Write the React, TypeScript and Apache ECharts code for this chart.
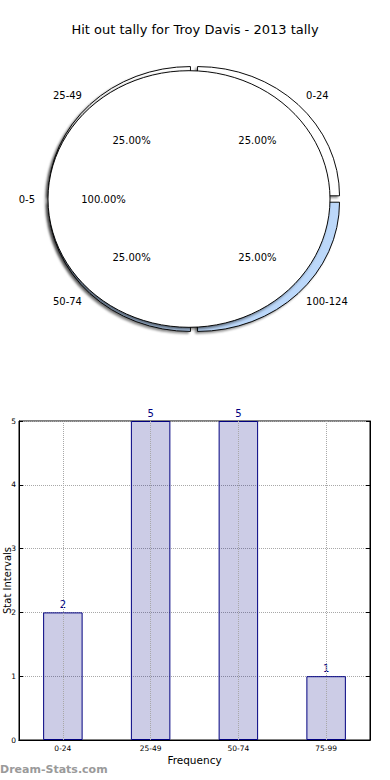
import React, { useEffect, useRef } from 'react';
import * as echarts from 'echarts';

const pieTitle = 'Hit out tally for Troy Davis - 2013 tally';
const ringNames = ['0-24', '25-49', '50-74', '100-124'];
const ringValues = [1, 1, 1, 1];
const ringPct = ['25.00%', '25.00%', '25.00%', '25.00%'];
const ringColors = ['#ffffff', '#ffffff', '#bcd8fa', '#bcd8fa'];
const fullName = '0-5';
const fullValue = 1;
const fullPct = '100.00%';

const barCategories = ['0-24', '25-49', '50-74', '75-99'];
const barValues = [2, 5, 5, 1];
const yMin = 0;
const yMax = 5;
const yStep = 1;

const FONT = 'DejaVu Sans';
const PIE_SCALE_Y = 0.91;

export default function App() {
  const pieRef = useRef<HTMLDivElement>(null);
  const mainRef = useRef<HTMLDivElement>(null);
  useEffect(() => {
    if (!pieRef.current || !mainRef.current) return;
    const pieChart = echarts.init(pieRef.current, undefined, { renderer: 'svg' });
    const chart = echarts.init(mainRef.current, undefined, { renderer: 'svg' });

    // Pie wedges (drawn in a vertically squeezed layer to get the elliptical look)
    pieChart.setOption({
      animation: false,
      series: [
        {
          type: 'pie',
          center: [194, 199],
          radius: [0, 142],
          startAngle: 0,
          clockwise: false,
          selectedMode: 'multiple',
          selectedOffset: 5,
          avoidLabelOverlap: false,
          silent: true,
          z: 1,
          data: ringNames.map((n, i) => ({
            name: n,
            value: ringValues[i],
            selected: true,
            itemStyle: { color: ringColors[i] },
          })),
          itemStyle: {
            borderColor: '#000',
            borderWidth: 1,
            shadowBlur: 2,
            shadowColor: 'rgba(0,0,0,0.45)',
            shadowOffsetX: -2,
            shadowOffsetY: 2,
          },
          label: { show: false },
          labelLine: { show: false },
          emphasis: { disabled: true },
        },
        {
          type: 'pie',
          center: [189, 199],
          radius: [0, 141],
          startAngle: 0,
          clockwise: false,
          silent: true,
          z: 2,
          data: [
            {
              name: fullName,
              value: fullValue,
              itemStyle: {
                color: '#ffffff',
                borderColor: '#000',
                borderWidth: 1,
                shadowBlur: 3,
                shadowColor: 'rgba(0,0,0,0.55)',
                shadowOffsetX: -2,
                shadowOffsetY: 2,
              },
            },
          ],
          label: { show: false },
          labelLine: { show: false },
          emphasis: { disabled: true },
        },
      ],
    });

    const option: any = {
      animation: false,
      textStyle: { fontFamily: FONT },
      title: {
        text: pieTitle,
        left: 'center',
        top: 18,
        textStyle: { fontFamily: FONT, fontSize: 13, fontWeight: 'normal', color: '#000' },
      },
      graphic: [
        {
          type: 'text',
          left: 0,
          top: 764,
          style: { text: 'Dream-Stats.com', fill: '#9a9a9a', font: 'bold 11px "DejaVu Sans"' },
        },
      ],
      grid: {
        left: 19,
        top: 421,
        width: 351,
        height: 319,
        show: true,
        borderColor: '#000',
        borderWidth: 1,
        containLabel: false,
        outerBoundsMode: 'none',
      },
      xAxis: [
        {
          type: 'category',
          data: barCategories,
          name: 'Frequency',
          nameLocation: 'middle',
          nameGap: 14,
          nameMoveOverlap: false,
          nameTextStyle: { fontFamily: FONT, fontSize: 10.5, color: '#000' },
          axisLine: { lineStyle: { color: '#000' } },
          axisTick: { inside: true, alignWithLabel: true, length: 4, lineStyle: { color: '#000' } },
          axisLabel: { fontFamily: FONT, fontSize: 7.5, color: '#000', margin: 4 },
          splitLine: { show: false },
        },
        {
          type: 'category',
          data: barCategories,
          position: 'top',
          axisLine: { lineStyle: { color: '#000' } },
          axisTick: { inside: true, alignWithLabel: true, length: 4, lineStyle: { color: '#000' } },
          axisLabel: { show: false },
        },
      ],
      yAxis: [
        {
          type: 'value',
          min: yMin,
          max: yMax,
          interval: yStep,
          name: 'Stat Intervals',
          nameLocation: 'middle',
          nameGap: 7,
          nameMoveOverlap: false,
          nameRotate: 90,
          nameTextStyle: { fontFamily: FONT, fontSize: 10, color: '#000' },
          axisLine: { show: true, lineStyle: { color: '#000' } },
          axisTick: { show: true, inside: true, length: 4, lineStyle: { color: '#000' } },
          axisLabel: { fontFamily: FONT, fontSize: 7.5, color: '#000', margin: 3 },
          splitLine: { show: true, lineStyle: { type: 'dotted', color: '#a8a8a8', width: 1 } },
        },
        {
          type: 'value',
          min: yMin,
          max: yMax,
          interval: yStep,
          position: 'right',
          axisLine: { show: true, lineStyle: { color: '#000' } },
          axisTick: { show: true, inside: true, length: 4, lineStyle: { color: '#000' } },
          axisLabel: { show: false },
          splitLine: { show: false },
        },
      ],
      series: [
        // Transparent pies carrying the pie's texts (unsqueezed)
        {
          type: 'pie',
          center: [194, 198.5],
          radius: [0, 140],
          startAngle: 0,
          clockwise: false,
          avoidLabelOverlap: false,
          silent: true,
          data: ringNames.map((n, i) => ({ name: n, value: ringValues[i] })),
          itemStyle: { color: 'rgba(0,0,0,0)', borderWidth: 0 },
          label: {
            show: true,
            position: 'outside',
            color: '#000',
            fontFamily: FONT,
            fontSize: 10,
            distanceToLabelLine: 2.5,
          },
          labelLine: { show: false, length: 5, length2: 7 },
          emphasis: { disabled: true },
        },
        {
          type: 'pie',
          center: [189, 199],
          radius: [0, 141],
          startAngle: 0,
          clockwise: false,
          avoidLabelOverlap: false,
          silent: true,
          data: [{ name: fullName, value: fullValue }],
          itemStyle: { color: 'rgba(0,0,0,0)', borderWidth: 0 },
          label: {
            show: true,
            position: 'outside',
            color: '#000',
            fontFamily: FONT,
            fontSize: 10,
            distanceToLabelLine: 2,
          },
          labelLine: { show: false, length: 6, length2: 5 },
          emphasis: { disabled: true },
        },
        {
          type: 'pie',
          center: [194.5, 199],
          radius: [0, 172],
          startAngle: 0,
          clockwise: false,
          avoidLabelOverlap: false,
          silent: true,
          data: ringNames.map((n, i) => ({
            name: n,
            value: ringValues[i],
            label: { offset: [0, i < 2 ? 4 : -4] },
          })),
          itemStyle: { color: 'rgba(0,0,0,0)', borderWidth: 0 },
          label: {
            show: true,
            position: 'inside',
            color: '#000',
            fontFamily: FONT,
            fontSize: 10,
            formatter: (p: any) => ringPct[p.dataIndex],
          },
          labelLine: { show: false },
          emphasis: { disabled: true },
        },
        {
          type: 'pie',
          center: [189, 199],
          radius: [0, 165],
          startAngle: 0,
          clockwise: false,
          avoidLabelOverlap: false,
          silent: true,
          data: [{ name: fullName, value: fullValue }],
          itemStyle: { color: 'rgba(0,0,0,0)', borderWidth: 0 },
          label: {
            show: true,
            position: 'inside',
            color: '#000',
            fontFamily: FONT,
            fontSize: 10,
            formatter: () => fullPct,
          },
          labelLine: { show: false },
          emphasis: { disabled: true },
        },
        {
          type: 'bar',
          xAxisIndex: 0,
          yAxisIndex: 0,
          data: barValues,
          barWidth: '45%',
          silent: true,
          itemStyle: { color: 'rgba(0,0,128,0.2)', borderColor: '#000080', borderWidth: 1 },
          label: {
            show: true,
            position: 'top',
            distance: 3,
            color: '#000080',
            fontFamily: FONT,
            fontSize: 10,
          },
          markLine: {
            silent: true,
            symbol: 'none',
            label: { show: false },
            lineStyle: { type: 'dotted', color: '#a8a8a8', width: 1 },
            data: barCategories.map((c) => ({ xAxis: c })),
          },
        },
      ],
    };
    chart.setOption(option);
    return () => {
      chart.dispose();
      pieChart.dispose();
    };
  }, []);
  return (
    <div style={{ position: 'absolute', left: 0, top: 0, width: 390, height: 780, background: '#fff' }}>
      <div
        ref={pieRef}
        style={{
          position: 'absolute',
          left: 0,
          top: 0,
          width: 390,
          height: 400,
          transform: `scaleY(${PIE_SCALE_Y})`,
          transformOrigin: '189px 199px',
        }}
      />
      <div ref={mainRef} style={{ position: 'absolute', left: 0, top: 0, width: 390, height: 780 }} />
    </div>
  );
}
